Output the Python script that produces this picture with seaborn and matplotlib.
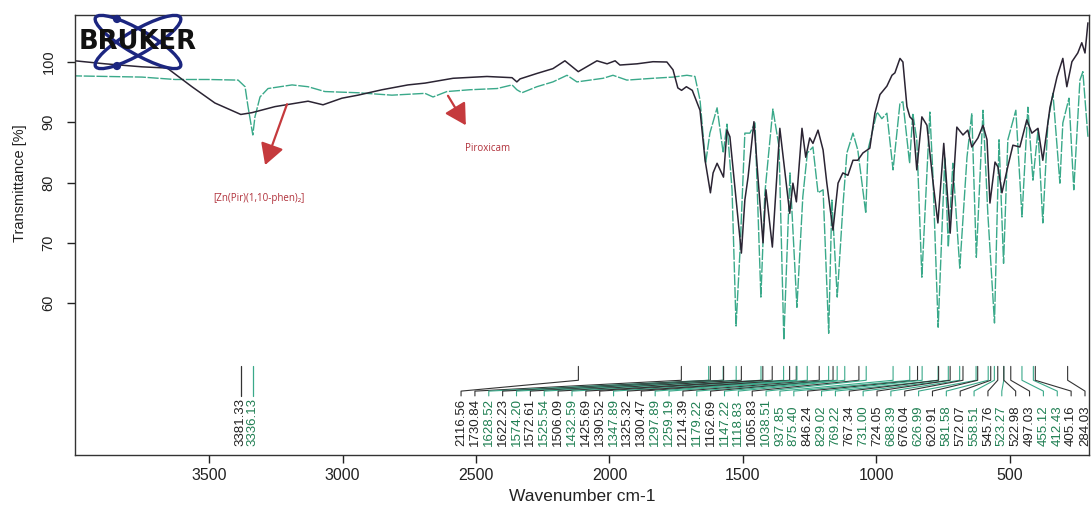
import numpy as np
import pandas as pd
import matplotlib
matplotlib.use("Agg")
import matplotlib.pyplot as plt
import seaborn as sns
from matplotlib.patches import Ellipse, Circle

# ---------------- data ----------------
complex_wn = [4002, 3889, 3751, 3657, 3564, 3478, 3381, 3339, 3253, 3129, 3073, 3002, 2942, 2852,
              2755, 2691, 2586, 2459, 2365, 2347, 2335, 2272, 2212, 2167, 2117, 2047, 2009, 1979,
              1961, 1897, 1837, 1785, 1762, 1744, 1730, 1712, 1690, 1661, 1642, 1622, 1612, 1597,
              1573, 1560, 1549, 1506, 1493, 1481, 1459, 1444, 1425, 1414, 1390, 1362, 1325, 1313,
              1300, 1279, 1265, 1250, 1238, 1219, 1200, 1186, 1163, 1144, 1126, 1107, 1088, 1070,
              1051, 1025, 1006, 987, 961, 942, 931, 912, 901, 886, 875, 864, 849, 830, 811, 789,
              770, 748, 724, 699, 676, 658, 643, 620, 601, 586, 575, 556, 545, 530, 511, 489, 463,
              437, 418, 395, 377, 350, 324, 302, 287, 268, 246, 231, 219, 208]
complex_t = [100.2, 99.7, 99.2, 99.0, 95.9, 93.2, 91.3, 91.6, 92.6, 93.5, 92.9, 94.0, 94.5, 95.4,
             96.2, 96.5, 97.3, 97.6, 97.4, 96.7, 97.2, 98.1, 98.9, 100.2, 98.4, 100.2, 99.7, 100.2,
             99.5, 99.7, 100.05, 100.0, 98.7, 95.7, 95.3, 95.9, 95.3, 92.0, 83.7, 78.3, 81.6, 83.2,
             80.9, 88.7, 87.6, 68.3, 77.1, 80.9, 90.1, 80.9, 70.0, 78.8, 69.3, 89.0, 74.9, 79.9,
             76.8, 89.0, 84.2, 87.4, 86.5, 88.7, 85.4, 79.9, 72.1, 79.9, 81.6, 81.2, 83.7, 83.7,
             84.9, 85.7, 91.5, 94.6, 96.0, 97.8, 98.2, 100.6, 100.0, 92.6, 90.9, 90.4, 82.1, 90.9,
             89.5, 80.4, 73.3, 86.5, 71.6, 89.2, 87.9, 88.7, 85.9, 87.4, 89.5, 87.1, 76.6, 83.4,
             82.6, 78.3, 82.1, 86.2, 85.9, 90.4, 88.2, 89.0, 83.7, 92.5, 97.5, 100.6, 95.9, 100.05,
             101.5, 103.2, 101.5, 106.5]

pirox_wn = [4002, 3880, 3751, 3627, 3504, 3391, 3365, 3354, 3336, 3328, 3309, 3279, 3189, 3129,
            3066, 2942, 2815, 2691, 2661, 2609, 2523, 2421, 2365, 2347, 2328, 2272, 2212, 2159,
            2122, 2024, 1987, 1935, 1837, 1762, 1710, 1680, 1661, 1640, 1624, 1597, 1574, 1560,
            1541, 1526, 1511, 1493, 1474, 1455, 1433, 1418, 1388, 1365, 1347, 1324, 1298, 1276,
            1259, 1238, 1219, 1200, 1179, 1167, 1147, 1126, 1111, 1088, 1070, 1040, 1032, 998,
            980, 961, 938, 912, 901, 876, 864, 849, 830, 800, 789, 769, 744, 731, 714, 688, 661,
            643, 626, 601, 583, 558, 541, 524, 508, 478, 455, 433, 414, 395, 377, 358, 339, 313,
            302, 279, 261, 238, 227, 208]
pirox_t = [97.7, 97.6, 97.5, 97.1, 97.1, 97.0, 95.9, 92.6, 87.9, 90.9, 94.2, 95.6, 96.2, 95.9,
           95.1, 94.9, 94.5, 94.8, 94.2, 95.1, 95.4, 95.6, 96.2, 95.4, 94.9, 95.9, 96.7, 97.8,
           96.7, 97.3, 97.8, 97.0, 97.3, 97.5, 97.8, 97.6, 93.7, 83.2, 88.2, 92.4, 84.9, 89.7,
           78.8, 56.2, 68.8, 88.2, 88.2, 89.9, 61.0, 78.3, 92.2, 85.9, 53.9, 81.6, 59.3, 77.6,
           84.9, 85.9, 78.3, 78.8, 55.0, 77.1, 61.0, 75.9, 84.9, 88.2, 85.4, 74.9, 85.4, 91.7,
           90.6, 91.5, 82.1, 93.2, 93.4, 83.2, 91.5, 87.1, 64.3, 91.7, 81.6, 56.0, 84.2, 69.3,
           83.2, 65.8, 84.2, 91.5, 67.6, 92.0, 74.9, 56.7, 87.1, 66.6, 87.1, 92.0, 74.3, 92.5,
           80.4, 88.7, 73.3, 89.9, 94.8, 79.9, 89.9, 94.0, 78.8, 97.0, 98.4, 87.6]

left_peaks = [3381.33, 3336.13]
left_peak_src = ["c", "p"]
main_peaks = [2116.56, 1730.84, 1628.52, 1622.23, 1574.20, 1572.61, 1525.54, 1506.09, 1432.59,
              1425.69, 1390.52, 1347.89, 1325.32, 1300.47, 1297.89, 1259.19, 1214.39, 1179.22,
              1162.69, 1147.22, 1118.83, 1065.83, 1038.51, 937.85, 875.40, 846.24, 829.02,
              769.22, 767.34, 731.00, 724.05, 688.39, 676.04, 626.99, 620.91, 581.58, 572.07,
              558.51, 545.76, 523.27, 522.98, 497.03, 455.12, 412.43, 405.16, 284.03]
main_peak_src = ["c", "c", "p", "c", "p", "c", "p", "c", "p",
                 "c", "c", "p", "c", "c", "p", "p", "c", "p",
                 "c", "p", "p", "c", "p", "p", "p", "c", "p",
                 "p", "c", "p", "c", "p", "c", "p", "c", "p", "c",
                 "p", "c", "p", "c", "c", "p", "p", "c", "c"]

xticks = [3500, 3000, 2500, 2000, 1500, 1000, 500]
yticks = [60, 70, 80, 90, 100]
complex_name = "[Zn(Pir)(1,10-phen)₂]"
pirox_name = "Piroxicam"

# ---------------- style ----------------
sns.set_style("ticks")
plt.rcParams['font.family'] = ['Liberation Sans', 'DejaVu Sans']

C_DARK = "#2b2433"
C_GREEN = "#3aa98a"
C_LBL_DARK = "#222222"
C_LBL_GREEN = "#1f7f52"
C_RED = "#c53a3d"

fig = plt.figure(figsize=(10.91, 5.12), dpi=100)
ax = fig.add_axes([75 / 1091, 1 - 455 / 512, 1014 / 1091, 440 / 512])

df_c = pd.DataFrame({"wn": complex_wn, "T": complex_t})
df_p = pd.DataFrame({"wn": pirox_wn, "T": pirox_t})

sns.lineplot(data=df_p, x="wn", y="T", ax=ax, color=C_GREEN, lw=1.0,
             estimator=None, linestyle=(0, (8, 1.2)))
sns.lineplot(data=df_c, x="wn", y="T", ax=ax, color=C_DARK, lw=1.1, estimator=None)

ax.set_xlim(4002, 204)
ax.set_ylim(34.8, 107.8)
ax.set_xticks(xticks)
ax.set_yticks(yticks)
ax.set_xticklabels([str(v) for v in xticks], fontsize=11.5)
ax.set_yticklabels([str(v) for v in yticks], fontsize=10.5, rotation=90, va="center")
ax.tick_params(axis="both", direction="out", length=6, width=1, colors="#222222")
ax.tick_params(axis="y", pad=8)
ax.tick_params(axis="x", pad=3)
for s in ax.spines.values():
    s.set_color("#333333")
    s.set_linewidth(1.0)

ax.set_xlabel("Wavenumber cm-1", fontsize=12.5, color="#222222")
ax.set_ylabel("Transmittance [%]", fontsize=10.5, color="#222222")
ax.xaxis.set_label_coords(0.5, -0.077)
ax.yaxis.set_label_coords(-0.047, 0.618)

# ---------------- peak labels ----------------
Y_TOP, Y_K1, Y_K2, Y_BOT, Y_TXT = 49.5, 47.2, 45.4, 44.6, 36.3


def col(src, text=False):
    if src == "c":
        return C_LBL_DARK if text else "#333333"
    return C_LBL_GREEN if text else C_GREEN


for p, s in zip(left_peaks, left_peak_src):
    ax.plot([p, p], [Y_TOP, Y_BOT], color=col(s), lw=0.9)
    ax.text(p, Y_TXT, f"{p:.2f}", rotation=90, ha="center", va="bottom",
            fontsize=9.5, color=col(s, True))

label_pos = np.linspace(2556, 219, len(main_peaks))
for p, lx, s in zip(main_peaks, label_pos, main_peak_src):
    ax.plot([p, p, lx, lx], [Y_TOP, Y_K1, Y_K2, Y_BOT], color=col(s), lw=0.8)
    ax.text(lx, Y_TXT, f"{p:.2f}", rotation=90, ha="center", va="bottom",
            fontsize=9.5, color=col(s, True))

# ---------------- arrows & annotations ----------------
arrow_kw = dict(arrowstyle="-|>,head_length=0.8,head_width=0.45", mutation_scale=16,
                color=C_RED, lw=1.6, shrinkA=0, shrinkB=0)
ax.annotate("", xy=(3290, 82.9), xytext=(3208, 93.0), arrowprops=arrow_kw)
ax.annotate("", xy=(2538, 89.5), xytext=(2605, 94.4), arrowprops=arrow_kw)
ax.text(3313, 77.3, complex_name, ha="center", va="center", fontsize=7, color="#b0303a",
        family=["Open Sans", "DejaVu Sans"])
ax.text(2455, 85.6, pirox_name, ha="center", va="center", fontsize=7, color="#b0303a",
        family=["Open Sans", "DejaVu Sans"])

# ---------------- Bruker logo ----------------
lax = fig.add_axes([0, 0, 1, 1])
lax.set_xlim(0, 1091)
lax.set_ylim(512, 0)
lax.axis("off")
lax.patch.set_alpha(0)
navy = "#1c2680"
for ang in (30, -30):
    lax.add_patch(Ellipse((138, 42), 98, 24, angle=ang, fill=False, ec=navy, lw=2.4))
lax.add_patch(Circle((117, 19), 3.4, color=navy))
lax.add_patch(Circle((117, 66), 3.4, color=navy))
lax.text(137.5, 42, "BRUKER", ha="center", va="center", fontsize=18.5, fontweight="heavy",
         color="#111111", family=["DejaVu Sans"])

fig.savefig("out.png", dpi=100)
